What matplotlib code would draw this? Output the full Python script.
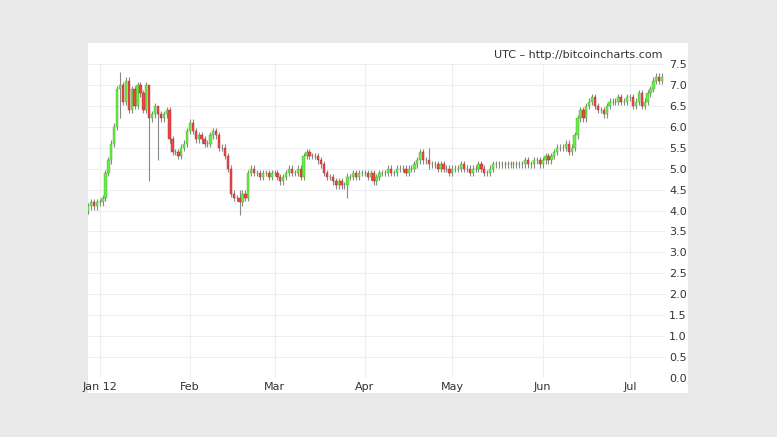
import matplotlib
matplotlib.use("Agg")
import matplotlib.pyplot as plt
import matplotlib.dates as mdates
import numpy as np
import pandas as pd

# Daily closes, starting 2011-12-28
start_date = "2011-12-28"
closes = [
    4.1, 4.2, 4.1, 4.2,
    4.2, 4.3, 4.9, 5.2, 5.6, 6.0, 6.9, 7.0, 6.6, 7.1,
    6.4, 6.9, 6.5, 7.0, 6.8, 6.4, 7.0, 6.2, 6.3, 6.5,
    6.3, 6.2, 6.3, 6.4, 5.7, 5.4, 5.4, 5.3, 5.5, 5.6, 5.9,
    6.1, 5.9, 5.7, 5.8, 5.7, 5.6, 5.6, 5.8, 5.9, 5.8, 5.5,
    5.5, 5.3, 5.0, 4.4, 4.3, 4.3, 4.2, 4.4, 4.3,
    4.9, 5.0, 4.9, 4.9, 4.8, 4.9, 4.9, 4.8, 4.9,
    4.9, 4.8, 4.7, 4.8, 4.9, 5.0, 4.9, 4.9, 5.0, 4.8,
    5.3, 5.4, 5.3, 5.3, 5.3, 5.2, 5.1, 4.9, 4.8, 4.8,
    4.7, 4.6, 4.7, 4.6, 4.6, 4.8, 4.8, 4.9, 4.8, 4.9, 4.9,
    4.9, 4.8, 4.9, 4.7, 4.8, 4.9, 4.9, 4.9, 5.0, 4.9,
    4.9, 5.0, 5.0, 5.0, 4.9, 5.0, 5.0, 5.1, 5.2, 5.4,
    5.2, 5.2, 5.1, 5.1, 5.1, 5.0, 5.1, 5.0, 5.0, 4.9,
    5.0, 5.0, 5.0, 5.1, 5.0, 5.0, 4.9, 5.0, 5.0, 5.1,
    5.0, 4.9, 4.9, 5.0, 5.1, 5.1, 5.1, 5.1, 5.1, 5.1,
    5.1, 5.1, 5.1, 5.1, 5.1, 5.2, 5.1, 5.1, 5.2, 5.2, 5.1,
    5.2, 5.3, 5.2, 5.3, 5.4, 5.5, 5.5, 5.5, 5.6, 5.4,
    5.5, 5.8, 6.2, 6.4, 6.2, 6.5, 6.6, 6.7, 6.5, 6.4,
    6.4, 6.3, 6.5, 6.6, 6.6, 6.6, 6.7, 6.6, 6.6, 6.7,
    6.7, 6.5, 6.6, 6.8, 6.5, 6.6, 6.8, 6.9, 7.1, 7.2, 7.1, 7.2,
]
# notable wicks: (day index, high, low)
spikes = [(11, 7.3, 6.2), (21, 6.4, 4.7), (24, 6.5, 5.2), (52, 4.5, 3.9), (89, 4.9, 4.3), (117, 5.5, 5.0)]

dates = pd.date_range(start_date, periods=len(closes), freq="D")
c = np.array(closes)
o = np.concatenate([[4.0], c[:-1]])
hi = np.maximum(o, c) + 0.08
lo = np.minimum(o, c) - 0.08
for i, h, l in spikes:
    hi[i], lo[i] = h, l

fig = plt.figure(figsize=(7.77, 4.37), dpi=100, facecolor="#e9e9e9")
ax = fig.add_axes([88 / 777, (437 - 378) / 437, 577 / 777, 314 / 437])
ax.set_facecolor("white")
fig.patches.append(plt.Rectangle((88 / 777, (437 - 393) / 437), 600 / 777, 350 / 437,
                                 transform=fig.transFigure, facecolor="white", zorder=-1))

x = mdates.date2num(dates)
up = c >= o
ax.vlines(x, lo, hi, color="#888888", linewidth=0.8, zorder=2)
ax.bar(x[up], (c - o)[up], bottom=o[up], width=0.8, color="#66ee44", edgecolor="#55aa33", linewidth=0.3, zorder=3)
ax.bar(x[~up], (c - o)[~up], bottom=o[~up], width=0.8, color="#ee4444", edgecolor="#aa3333", linewidth=0.3, zorder=3)

ax.set_ylim(0, 7.5)
ax.set_xlim(mdates.date2num(pd.Timestamp("2011-12-28")), mdates.date2num(pd.Timestamp("2012-07-13")))
ax.set_yticks(np.arange(0, 7.6, 0.5))
ax.yaxis.tick_right()
ax.yaxis.set_major_formatter(matplotlib.ticker.FormatStrFormatter("%.1f"))
month_ticks = pd.date_range("2012-01-01", "2012-07-01", freq="MS")
ax.set_xticks(mdates.date2num(month_ticks))
ax.set_xticklabels(["Jan 12", "Feb", "Mar", "Apr", "May", "Jun", "Jul"])
ax.grid(True, color="#eeeeee", linewidth=0.8)
ax.tick_params(labelsize=8, colors="#333333", length=0, pad=3)
ax.set_axisbelow(True)
for s in ax.spines.values():
    s.set_visible(False)
fig.text(663 / 777, 1 - 55 / 437, "UTC \u2013 http://bitcoincharts.com", ha="right", va="center",
         fontsize=8, color="#333333")

fig.savefig("out.png", dpi=100, facecolor=fig.get_facecolor())
